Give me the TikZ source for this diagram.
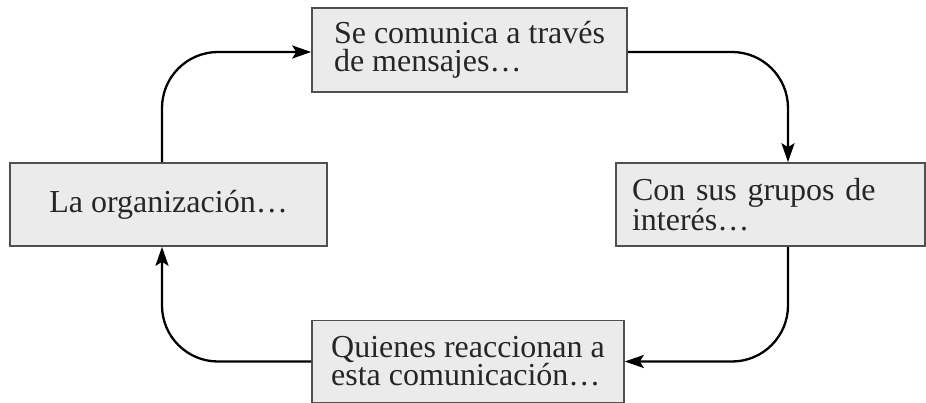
\documentclass[tikz,border=0pt]{standalone}
\usepackage{fontspec}
\setmainfont{Liberation Serif}
\usetikzlibrary{arrows.meta,calc}
\definecolor{boxfill}{HTML}{EBEBEB}
\definecolor{boxline}{HTML}{505050}
\tikzset{
  stagebox/.style={draw=boxline, line width=1.6pt, fill=boxfill, rectangle,
    align=left, inner sep=0pt,
    font=\fontsize{32pt}{28pt}\selectfont, text=black!85},
  flow/.style={line width=2.3pt, rounded corners=56pt,
    -{Stealth[length=19pt,width=13pt,inset=4pt]}},
}
\begin{document}
\begin{tikzpicture}[x=1pt,y=-1pt]
\useasboundingbox (0,0) rectangle (926,403);
\node[stagebox, minimum width=315pt, minimum height=84pt] (top) at (469.5,50) {Se comunica a través\\de mensajes…};
\node[stagebox, minimum width=317pt, minimum height=83pt] (left) at (168.5,204.5) {La organización…};
\node[stagebox, minimum height=83pt, text width=277pt, inner xsep=16pt] (right) at (770.5,204.5) {Con sus grupos de\\interés…};
\node[stagebox, minimum width=312pt, minimum height=82pt] (bottom) at (468,361.5) {Quienes reaccionan a\\esta comunicación…};
\coordinate (lt) at ([xshift=-6.5pt]left.north);
\coordinate (lb) at ([xshift=-6.5pt]left.south);
\coordinate (rt) at ([xshift=17.5pt]right.north);
\coordinate (rb) at ([xshift=17.5pt]right.south);
\draw[flow] (lt) |- ([yshift=-2pt]top.west);
\draw[flow] ([yshift=-2pt]top.east) -| (rt);
\draw[flow] (rb) |- (bottom.east);
\draw[flow] (bottom.west) -| (lb);
\end{tikzpicture}
\end{document}
